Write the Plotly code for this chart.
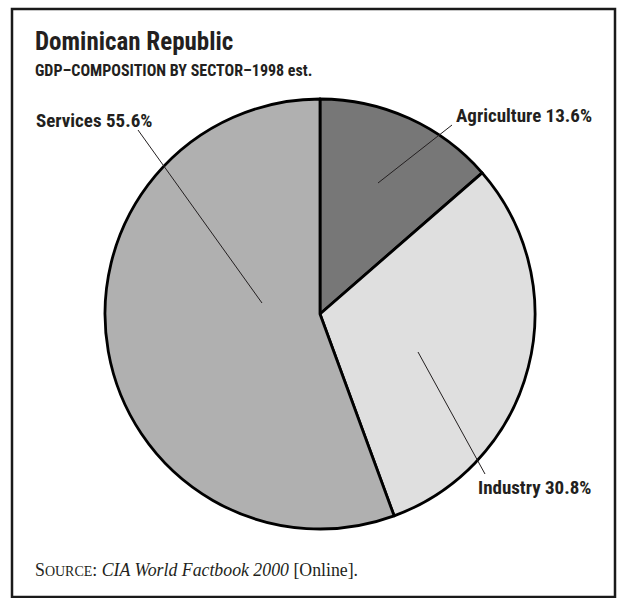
import plotly.graph_objects as go

# GDP composition by sector, 1998 estimate
sectors = ["Agriculture", "Industry", "Services"]
shares = [13.6, 30.8, 55.6]
slice_colors = ["#777777", "#dfdfdf", "#b0b0b0"]

W, H = 617, 598
CX, CY, R = 320, 314, 215  # pie centre and radius in pixels


def px(x, y):
    """Pixel position (from top-left) to paper coordinates."""
    return x / W, 1 - y / H


fig = go.Figure(
    go.Pie(
        labels=sectors,
        values=shares,
        sort=False,
        direction="clockwise",
        rotation=0,
        marker=dict(colors=slice_colors, line=dict(color="black", width=2.8)),
        textinfo="none",
        hoverinfo="label+percent",
        showlegend=False,
        domain=dict(x=[(CX - R) / W, (CX + R) / W],
                    y=[(H - CY - R) / H, (H - CY + R) / H]),
    )
)

SANS = "Roboto Condensed, Liberation Sans Narrow, Arial Narrow, sans-serif"
INK = "#231f20"
label_font = dict(family=SANS, size=19, color=INK)

# label text positions and leader-line endpoints (pixels)
callouts = {
    "Agriculture": dict(text_xy=(594, 116), anchor="right", line=[(452, 125), (378, 183)]),
    "Industry": dict(text_xy=(593, 487), anchor="right", line=[(485, 474), (418, 352)]),
    "Services": dict(text_xy=(34, 121), anchor="left", line=[(138, 130), (262, 303)]),
}

annotations = []
shapes = []
for name, val in zip(sectors, shares):
    c = callouts[name]
    x, y = px(*c["text_xy"])
    annotations.append(dict(
        x=x, y=y, xref="paper", yref="paper", xanchor=c["anchor"], yanchor="middle",
        text=f"<b>{name} {val}%</b>", showarrow=False, font=label_font,
    ))
    (x0, y0), (x1, y1) = [px(*p) for p in c["line"]]
    shapes.append(dict(type="line", xref="paper", yref="paper", x0=x0, y0=y0, x1=x1, y1=y1,
                       line=dict(color=INK, width=1)))

# title block
tx, ty = px(33, 42)
annotations.append(dict(x=tx, y=ty, xref="paper", yref="paper", xanchor="left", yanchor="middle",
                        text="<b>Dominican Republic</b>", showarrow=False,
                        font=dict(family=SANS, size=25, color=INK)))
sx, sy = px(33, 70)
annotations.append(dict(x=sx, y=sy, xref="paper", yref="paper", xanchor="left", yanchor="middle",
                        text="<b>GDP–COMPOSITION BY SECTOR–1998 est.</b>", showarrow=False,
                        font=dict(family=SANS, size=16, color=INK)))

# source line
fx, fy = px(33, 570)
annotations.append(dict(x=fx, y=fy, xref="paper", yref="paper", xanchor="left", yanchor="middle",
                        text="S<span style='font-size:14px'>OURCE</span>: <i>CIA World Factbook 2000</i> [Online].",
                        showarrow=False,
                        font=dict(family="Liberation Serif, Times New Roman, serif", size=17.8, color=INK)))

# frame around the chart
fx0, fy0 = px(12, 9)
fx1, fy1 = px(615, 597)
shapes.append(dict(type="rect", xref="paper", yref="paper", x0=fx0, y0=fy0, x1=fx1, y1=fy1,
                   line=dict(color="#1a1a1a", width=2.5)))

fig.update_layout(
    width=W, height=H,
    margin=dict(l=0, r=0, t=0, b=0),
    paper_bgcolor="white", plot_bgcolor="white",
    annotations=annotations, shapes=shapes,
)

fig.write_html("out.html")
